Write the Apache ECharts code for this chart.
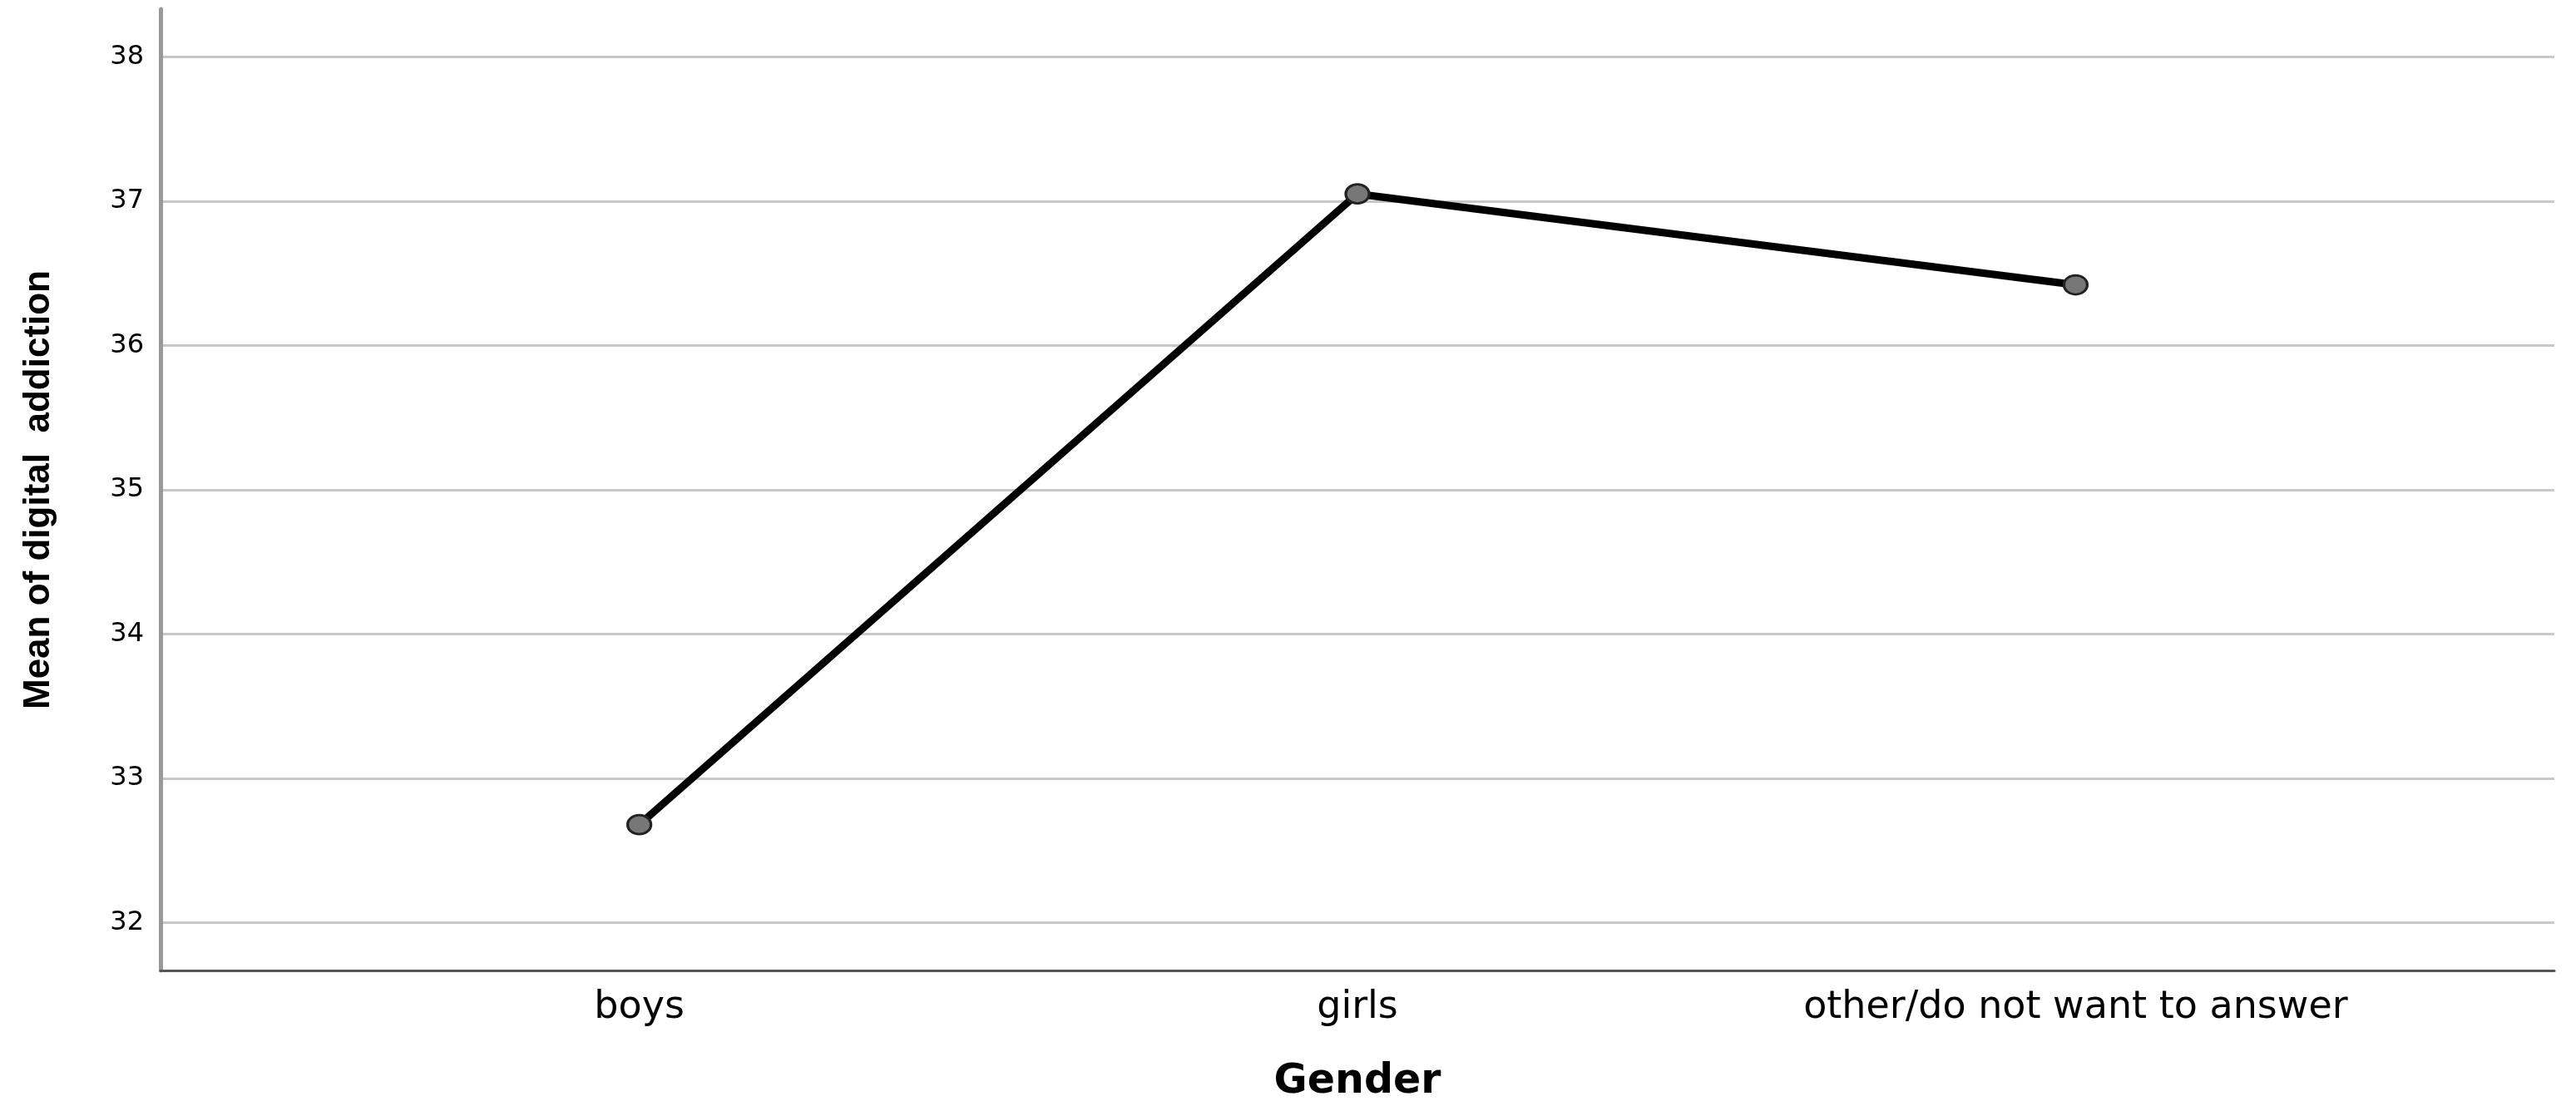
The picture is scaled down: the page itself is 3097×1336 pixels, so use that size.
<!DOCTYPE html>
<html>
<head>
<meta charset="utf-8">
<script src="https://cdn.jsdelivr.net/npm/echarts@6/dist/echarts.min.js"></script>
<style>
  html, body { margin: 0; padding: 0; background: #fff; }
  #chart { width: 3097px; height: 1336px; }
</style>
</head>
<body>
<div id="chart"></div>
<script>
const categories = ['boys', 'girls', 'other/do not want to answer'];
const meanValues = [32.68, 37.05, 36.42];
const yTitle = 'Mean of digital  addiction';
const xTitle = 'Gender';

const chart = echarts.init(document.getElementById('chart'));

chart.setOption({
  animation: false,
  grid: { left: 193, right: 26, top: 11, bottom: 169 },
  xAxis: {
    type: 'value',
    min: -2 / 3,
    max: 8 / 3,
    name: xTitle,
    nameLocation: 'middle',
    nameGap: 110,
    nameTextStyle: { fontFamily: 'DejaVu Sans', fontWeight: 'bold', fontSize: 49, color: '#000' },
    axisLine: { show: true, onZero: false, lineStyle: { color: '#555', width: 3 } },
    axisTick: { show: false },
    splitLine: { show: false },
    axisLabel: {
      customValues: [0, 1, 2],
      formatter: (v) => categories[Math.round(v)],
      fontFamily: 'DejaVu Sans',
      fontSize: 46,
      color: '#000',
      margin: 22
    }
  },
  yAxis: {
    type: 'value',
    min: 31.67,
    max: 38.33,
    name: yTitle,
    nameLocation: 'middle',
    nameGap: 124,
    nameTextStyle: { fontFamily: 'Liberation Sans', fontWeight: 'bold', fontSize: 44, color: '#000' },
    axisLine: { show: true, onZero: false, lineStyle: { color: '#999', width: 5 } },
    axisTick: { show: false },
    axisLabel: {
      showMinLabel: false,
      showMaxLabel: false,
      fontFamily: 'DejaVu Sans',
      fontSize: 32,
      color: '#000',
      margin: 20
    },
    splitLine: { show: true, showMinLine: false, showMaxLine: false, lineStyle: { color: '#c8c8c8', width: 3 } }
  },
  series: [{
    type: 'line',
    data: categories.map((c, i) => [i, meanValues[i]]),
    symbol: 'circle',
    symbolSize: [28, 23],
    itemStyle: { color: '#777', borderColor: '#222', borderWidth: 3 },
    lineStyle: { color: '#000', width: 9 }
  }]
});
</script>
</body>
</html>
